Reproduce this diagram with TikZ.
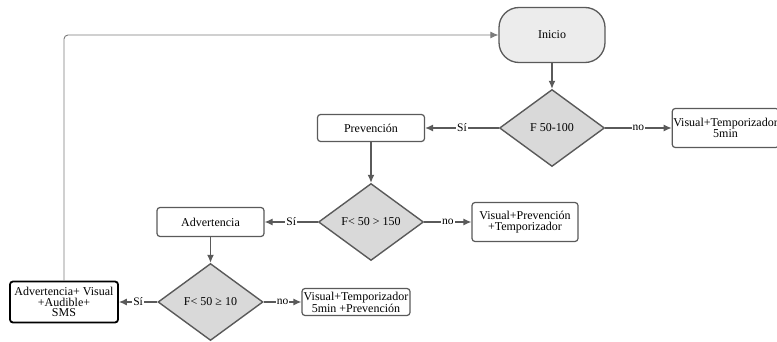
\documentclass[tikz,border=0pt]{standalone}
\usepackage{fontspec}
\setmainfont{Liberation Serif}
\usetikzlibrary{shapes.geometric,arrows.meta}

\definecolor{linegray}{HTML}{5A5A5A}
\definecolor{diagray}{HTML}{D9D9D9}
\definecolor{startgray}{HTML}{ECECEC}

\tikzset{
    start/.style={rectangle, rounded corners=20pt, draw=linegray, fill=startgray, line width=1.3pt, minimum width=106pt, minimum height=55pt, font=\fontsize{12}{11}\selectfont},
    decision/.style={diamond, draw=linegray, fill=diagray, line width=1.4pt, minimum width=105pt, minimum height=77pt, inner sep=0pt, font=\fontsize{12}{11}\selectfont},
    action/.style={rectangle, rounded corners=3pt, draw=linegray, fill=white, line width=1.2pt, align=center, inner sep=1pt, font=\fontsize{12}{10.5}\selectfont},
    flow/.style={-{Latex[length=8pt,width=7pt]}, draw=linegray, line width=1.2pt},
    tag/.style={fill=white, inner sep=1pt, font=\fontsize{11.5}{11}\selectfont}
}

\begin{document}
\begin{tikzpicture}[x=1pt,y=-1pt]
            \useasboundingbox (0,0) rectangle (777,342);

            % Start and first check
            \node [start] (inicio) at (552,35) {Inicio};
            \node [decision] (check1) at (552,128) {F 50-100};
            \node [action, minimum width=107pt, minimum height=27pt] (prevencion) at (371,128) {Prevención};
            \node [action, minimum width=103pt, minimum height=39pt] (visual1) at (725.5,128) {Visual+Temporizador\\5min};

            % Second check
            \node [decision] (check2) at (371,222) {F< 50 > 150};
            \node [action, minimum width=107pt, minimum height=29pt] (advertencia) at (210.5,222) {Advertencia};
            \node [action, minimum width=106pt, minimum height=39pt] (visual2) at (525,222) {Visual+Prevención\\+Temporizador};

            % Third check
            \node [decision] (check3) at (210.5,302) {F< 50 ≥ 10};
            \node [action, draw=black, line width=1.8pt, minimum width=108pt, minimum height=41pt] (alarma) at (64,302) {Advertencia+ Visual\\+Audible+\\SMS};
            \node [action, minimum width=108pt, minimum height=27pt] (visual3) at (356,302) {Visual+Temporizador\\5min +Prevención};

            \draw [flow] (inicio) -- (check1);
            \draw [flow] (check1) -- node [tag] {Sí} (prevencion);
            \draw [flow] (check1) -- node [tag] {no} (visual1);
            \draw [flow] (prevencion) -- (check2);
            \draw [flow] (check2) -- node [tag] {Sí} (advertencia);
            \draw [flow] (check2) -- node [tag] {no} (visual2);
            \draw [flow] (advertencia) -- (check3);
            \draw [flow] (check3) -- node [tag] {Sí} (alarma);
            \draw [flow] (check3) -- node [tag] {no} (visual3);

            % Back to the start
            \draw [flow, line width=0.9pt, draw=linegray!80, rounded corners=4pt] (alarma.north) |- (inicio.west);

\end{tikzpicture}
\end{document}
